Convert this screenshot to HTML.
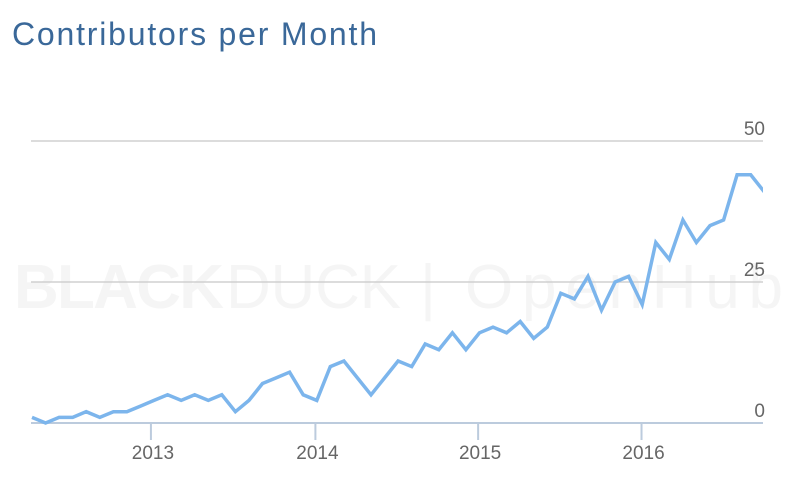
<!DOCTYPE html>
<html><head><meta charset="utf-8"><style>
html,body{margin:0;padding:0;background:#fff;width:797px;height:484px;overflow:hidden}
svg{display:block;font-family:"Liberation Sans",sans-serif}
</style></head><body>
<svg id="chart" width="797" height="484">
<text x="12" y="45" font-size="32" fill="#3a6899" textLength="365">Contributors per Month</text>
<g font-size="62" fill="#f5f5f5">
<text x="14" y="308" font-weight="bold" textLength="210">BLACK</text>
<text x="226" y="308" textLength="175">DUCK</text>
<text x="420" y="308">|</text>
<text x="465" y="308" textLength="318">OpenHub</text>
</g>
<g id="grid"></g>
<g id="axes"></g>
<defs><clipPath id="clip"><rect x="31" y="100" width="732" height="340"/></clipPath></defs>
<g id="series" clip-path="url(#clip)"></g>
</svg>
<script>
const values = [1,0,1,1,2,1,2,2,3,4,5,4,5,4,5,2,4,7,8,9,5,4,10,11,8,5,8,11,10,14,13,16,13,16,17,16,18,15,17,23,22,26,20,25,26,21,32,29,36,32,35,36,44,44,41];
const yTicks = [0,25,50];
const yearLabels = ["2013","2014","2015","2016"];
const yearIndex = [8.77,20.9,32.9,44.95];

const NS="http://www.w3.org/2000/svg";
const X0=32, DX=13.56, Y0=423, PY=5.64;
function xs(i){return X0+i*DX;}
function ys(v){return Y0-v*PY;}
function mk(t,a,p){const e=document.createElementNS(NS,t);for(const k in a)e.setAttribute(k,a[k]);p.appendChild(e);return e;}
const grid=document.getElementById('grid'), axes=document.getElementById('axes'), series=document.getElementById('series');
yTicks.forEach(v=>{
  if(v>0){const l=mk('line',{x1:31,x2:763,y1:ys(v),y2:ys(v),stroke:'#d0d0d0','stroke-width':1.5},grid);
  
  }
  const t=mk('text',{x:765,y:ys(v)-6,'text-anchor':'end','font-size':19,fill:'#666'},axes);
  t.textContent=v;
  
  
});
const base=mk('line',{x1:31,x2:763,y1:Y0,y2:Y0,stroke:'#bccbdd','stroke-width':2},axes);


yearLabels.forEach((lab,k)=>{
  const x=xs(yearIndex[k]);
  const tk=mk('line',{x1:x,x2:x,y1:Y0,y2:Y0+17,stroke:'#bccbdd','stroke-width':2},axes);
  
  
  const t=mk('text',{x:x+2,y:459,'text-anchor':'middle','font-size':19,fill:'#666'},axes);
  t.textContent=lab;
  
  
});
const pts=values.map((v,i)=>xs(i).toFixed(1)+','+ys(v).toFixed(1)).join(' ');
const line=mk('polyline',{points:pts,fill:'none',stroke:'#7cb5ec','stroke-width':3.5,'stroke-linejoin':'miter'},series);


</script>
</body></html>
